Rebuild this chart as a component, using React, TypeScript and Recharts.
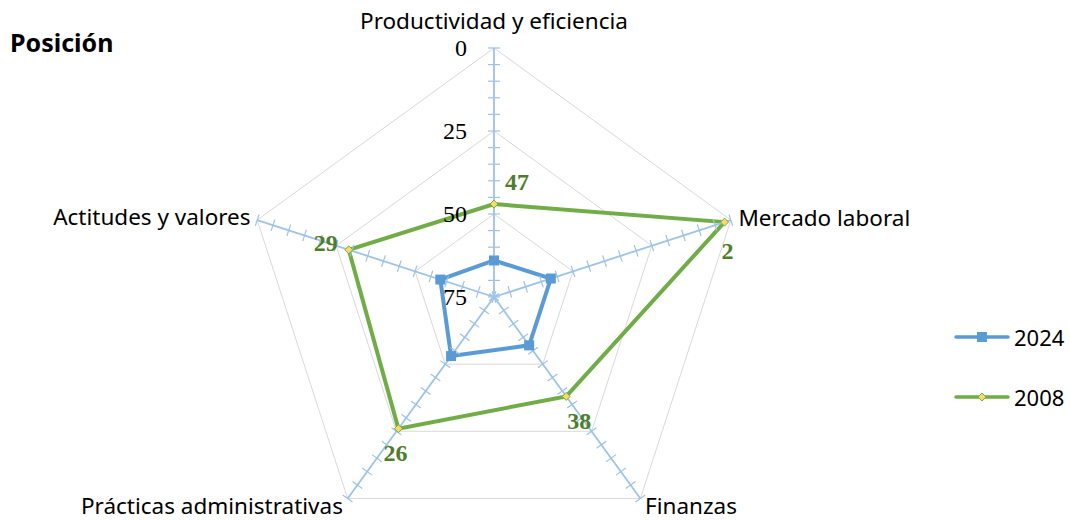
import {
  Legend,
  LabelList,
  PolarAngleAxis,
  PolarGrid,
  PolarRadiusAxis,
  Radar,
  RadarChart,
} from "recharts";

const CATEGORIES = [
  "Productividad y eficiencia",
  "Mercado laboral",
  "Finanzas",
  "Prácticas administrativas",
  "Actitudes y valores",
];
const POS_2024 = [64, 57, 57, 53, 58];
const POS_2008 = [47, 2, 38, 26, 29];
const GRID_TICKS = [0, 25, 50, 75];

const BLUE = "#5b9bd5";
const GREEN = "#70ad47";
const LABEL_GREEN = "#4e7d2c";
const AXIS_BLUE = "#9dc3e6";
const GRID = "#d9d9d9";
const SANS = "'Noto Sans', 'Open Sans', sans-serif";
const SERIF = "'Liberation Serif', 'DejaVu Serif', serif";

const data = CATEGORIES.map((subject, i) => ({
  subject,
  y2024: POS_2024[i],
  y2008: POS_2008[i],
}));

// spoke angles (clockwise from top), one minor-tick axis per spoke
const SPOKES = [90, 18, -54, -126, 162];

// label placement around the outer polygon
const ANGLE_LABEL = [
  { anchor: "middle", dx: 0, dy: -20 },
  { anchor: "start", dx: 0, dy: 0 },
  { anchor: "start", dx: 0, dy: 1 },
  { anchor: "end", dx: 0, dy: 1 },
  { anchor: "end", dx: 1, dy: -1 },
];

// data label offsets for the 2008 series
const LABEL_OFFSET = [
  { anchor: "start", dx: 11, dy: -22 },
  { anchor: "middle", dx: 3, dy: 29 },
  { anchor: "middle", dx: 13, dy: 25 },
  { anchor: "middle", dx: -3, dy: 24 },
  { anchor: "end", dx: -11, dy: -7 },
];

function AngleTick(props: any) {
  const { x, y, payload, index } = props;
  const p = ANGLE_LABEL[index] ?? ANGLE_LABEL[0];
  return (
    <text
      x={x + p.dx}
      y={y + p.dy}
      textAnchor={p.anchor}
      dominantBaseline="central"
      style={{ fontFamily: SANS, fontSize: 22.5 }}
      fill="#000"
    >
      {payload.value}
    </text>
  );
}

function makeMinorTick(angle: number) {
  return (props: any) => {
    const { x, y } = props;
    return (
      <line
        x1={x - 6}
        y1={y}
        x2={x + 6}
        y2={y}
        stroke={AXIS_BLUE}
        strokeWidth={1.2}
        transform={`rotate(${90 - angle}, ${x}, ${y})`}
      />
    );
  };
}

function ValueTick(props: any) {
  const { x, y, payload } = props;
  return (
    <text
      x={x - 27}
      y={y}
      textAnchor="end"
      dominantBaseline="central"
      fontFamily={SERIF}
      fontSize={24}
      style={{ fontFamily: SERIF, fontSize: 24 }}
      fill="#000"
      stroke="none"
    >
      {payload.value}
    </text>
  );
}

function SquareDot(props: any) {
  const { cx, cy } = props;
  return <rect x={cx - 5} y={cy - 5} width={10} height={10} fill={BLUE} />;
}

function DiamondDot(props: any) {
  const { cx, cy } = props;
  return (
    <path
      d={`M${cx},${cy - 4} L${cx + 4},${cy} L${cx},${cy + 4} L${cx - 4},${cy} Z`}
      fill="#ffd966"
      stroke={GREEN}
      strokeWidth={1}
    />
  );
}

function PointLabel(props: any) {
  const { x, y, value, index } = props;
  const p = LABEL_OFFSET[index] ?? LABEL_OFFSET[0];
  return (
    <text
      x={x + p.dx}
      y={y + p.dy}
      textAnchor={p.anchor}
      dominantBaseline="central"
      style={{ fontFamily: SERIF, fontWeight: "bold", fontSize: 24 }}
      fill={LABEL_GREEN}
    >
      {value}
    </text>
  );
}

function LegendBox() {
  const items = [
    { label: "2024", color: BLUE, marker: "square" },
    { label: "2008", color: GREEN, marker: "diamond" },
  ];
  return (
    <div style={{ display: "flex", flexDirection: "column", gap: 30 }}>
      {items.map((it) => (
        <div key={it.label} style={{ display: "flex", alignItems: "center", gap: 3 }}>
          <svg width={58} height={28}>
            <line x1={3} y1={14} x2={55} y2={14} stroke={it.color} strokeWidth={3.5} strokeLinecap="round" />
            {it.marker === "square" ? (
              <rect x={24} y={9} width={10} height={10} fill={BLUE} />
            ) : (
              <path d="M29,10 L33,14 L29,18 L25,14 Z" fill="#ffd966" stroke={GREEN} strokeWidth={1} />
            )}
          </svg>
          <span style={{ fontFamily: SANS, fontSize: 22, color: "#000" }}>{it.label}</span>
        </div>
      ))}
    </div>
  );
}

export default function App() {
  return (
    <div style={{ position: "absolute", left: 0, top: 0, width: 1070, height: 520, background: "#fff" }}>
      <div
        style={{
          position: "absolute",
          left: 10,
          top: 25,
          fontFamily: SANS,
          fontWeight: "bold",
          fontSize: 25,
          color: "#000",
        }}
      >
        Posición
      </div>
      <RadarChart width={1070} height={520} data={data} cx={494} cy={297} outerRadius={249}>
        <PolarGrid gridType="polygon" radialLines={false} stroke={GRID} radiusAxisId={0} />
        <PolarAngleAxis dataKey="subject" tick={AngleTick} tickLine={false} axisLine={false} />
        {SPOKES.map((a, i) => (
          <PolarRadiusAxis
            key={`t${i}`}
            radiusAxisId={i + 1}
            angle={a}
            type="number"
            domain={[0, 75]}
            allowDataOverflow
            reversed
            tickCount={16}
            axisLine={{ stroke: AXIS_BLUE, strokeWidth: 1.8 }}
            tick={makeMinorTick(a)}
          />
        ))}
        <PolarRadiusAxis
          radiusAxisId={0}
          angle={90}
          type="number"
          domain={[0, 75]}
          allowDataOverflow
          ticks={GRID_TICKS}
          tickCount={4}
          reversed
          axisLine={false}
          tick={ValueTick}
        />
        <Radar
          name="2024"
          dataKey="y2024"
          stroke={BLUE}
          strokeWidth={4}
          fill="none"
          fillOpacity={0}
          dot={SquareDot}
          isAnimationActive={false}
        />
        <Radar
          name="2008"
          dataKey="y2008"
          stroke={GREEN}
          strokeWidth={4}
          fill="none"
          fillOpacity={0}
          dot={DiamondDot}
          isAnimationActive={false}
        >
          <LabelList dataKey="y2008" content={PointLabel} />
        </Radar>
        <Legend
          layout="vertical"
          align="right"
          verticalAlign="middle"
          content={LegendBox}
          wrapperStyle={{ left: 953, top: 322, width: 115 }}
        />
      </RadarChart>
    </div>
  );
}
